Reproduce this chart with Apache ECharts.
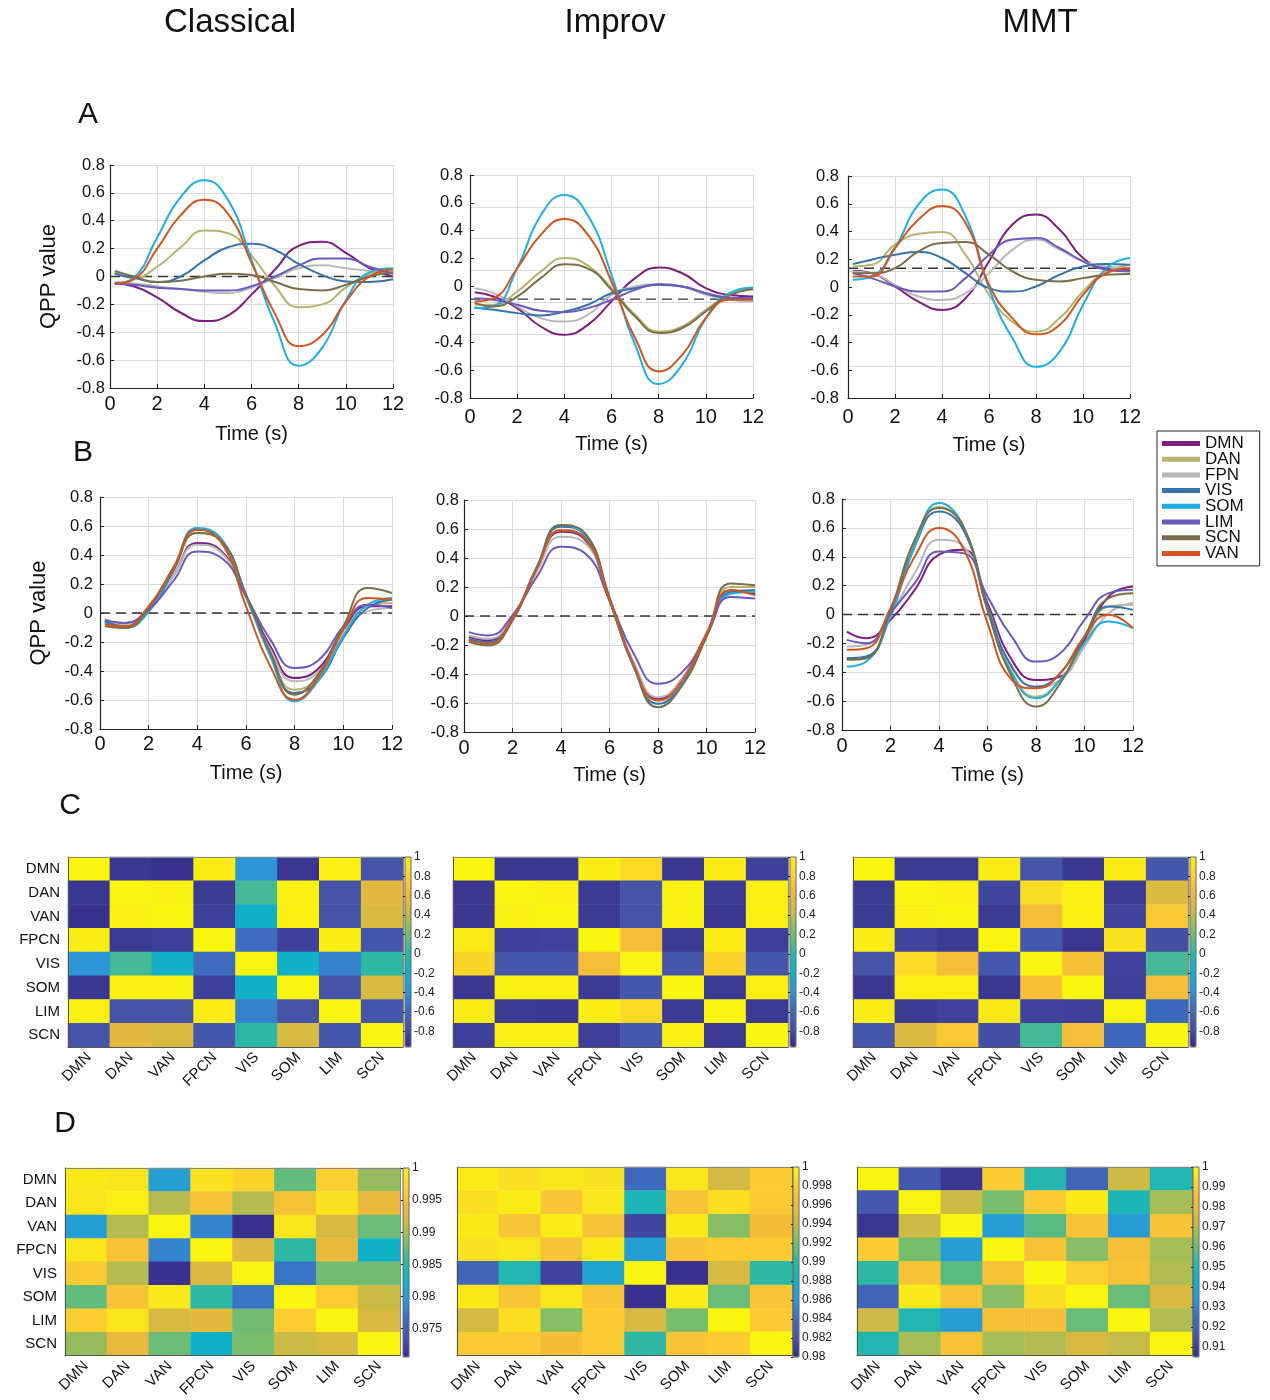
<!DOCTYPE html>
<html><head><meta charset="utf-8">
<script src="https://cdn.jsdelivr.net/npm/echarts@6/dist/echarts.min.js"></script>
<style>html,body{margin:0;padding:0;background:#fff}#c{width:1270px;height:1400px}</style>
</head><body><div id="c"></div>
<script>
// ---------------- DATA ----------------
const networks = ['DMN','DAN','FPN','VIS','SOM','LIM','SCN','VAN'];
const conditions = ['Classical','Improv','MMT'];
const panelLetters = ['A','B','C','D'];
const times = [0.2,1,2,3,4,5,6,7,8,9,10,11,12];
const qppTicks = [-0.8,-0.6,-0.4,-0.2,0,0.2,0.4,0.6,0.8];
const timeTicks = [0,2,4,6,8,10,12];

// rows follow `networks` order
const qppA_Classical = [
  [-0.05,-0.07,-0.15,-0.26,-0.32,-0.28,-0.13,0.05,0.22,0.25,0.17,0.06,0.0],
  [0.03,-0.01,0.07,0.21,0.33,0.31,0.15,-0.07,-0.22,-0.2,-0.08,0.02,0.05],
  [-0.04,-0.05,-0.07,-0.09,-0.11,-0.12,-0.08,-0.01,0.06,0.08,0.06,0.04,0.03],
  [0.02,-0.01,-0.04,0.0,0.115,0.21,0.235,0.19,0.09,0.01,-0.035,-0.04,-0.02],
  [-0.05,-0.01,0.28,0.57,0.69,0.55,0.12,-0.34,-0.64,-0.51,-0.17,0.03,0.06],
  [-0.05,-0.06,-0.08,-0.09,-0.1,-0.1,-0.07,0.0,0.08,0.13,0.13,0.07,0.02],
  [0.04,0.0,-0.04,-0.03,0.0,0.02,0.01,-0.04,-0.09,-0.1,-0.06,0.0,0.03],
  [-0.05,-0.02,0.2,0.44,0.55,0.45,0.1,-0.27,-0.5,-0.42,-0.18,0.0,0.05]
];
const qppA_Improv = [
  [-0.041,-0.072,-0.155,-0.287,-0.346,-0.275,-0.107,0.06,0.136,0.095,-0.012,-0.06,-0.072],
  [-0.131,-0.131,-0.036,0.107,0.205,0.15,-0.012,-0.203,-0.322,-0.287,-0.167,-0.06,-0.017],
  [-0.012,-0.048,-0.143,-0.227,-0.251,-0.203,-0.06,0.0,0.017,0.0,-0.06,-0.095,-0.107],
  [-0.15,-0.167,-0.191,-0.208,-0.179,-0.131,-0.048,-0.012,0.012,0.0,-0.048,-0.084,-0.084],
  [-0.155,-0.14,0.13,0.51,0.657,0.51,0.084,-0.418,-0.70,-0.56,-0.227,-0.048,-0.007],
  [-0.084,-0.095,-0.131,-0.174,-0.184,-0.155,-0.095,-0.024,0.017,0.0,-0.048,-0.079,-0.084],
  [-0.119,-0.143,-0.072,0.06,0.16,0.128,-0.024,-0.215,-0.334,-0.298,-0.179,-0.064,-0.019],
  [-0.107,-0.084,0.131,0.37,0.485,0.37,0.036,-0.37,-0.609,-0.49,-0.227,-0.095,-0.095]
];
const qppA_MMT = [
  [0.117,0.1,0.004,-0.105,-0.165,-0.081,0.185,0.45,0.522,0.414,0.209,0.136,0.124],
  [0.148,0.16,0.305,0.383,0.397,0.233,-0.057,-0.25,-0.322,-0.226,-0.033,0.112,0.156],
  [0.112,0.1,0.016,-0.069,-0.093,-0.045,0.1,0.269,0.342,0.269,0.185,0.148,0.136],
  [0.165,0.197,0.233,0.252,0.209,0.1,-0.008,-0.033,0.004,0.088,0.148,0.165,0.16],
  [0.052,0.076,0.281,0.595,0.703,0.51,-0.008,-0.37,-0.575,-0.467,-0.129,0.136,0.209],
  [0.1,0.064,0.004,-0.033,-0.033,0.064,0.233,0.342,0.354,0.281,0.185,0.124,0.112],
  [0.1,0.1,0.136,0.257,0.317,0.325,0.233,0.112,0.052,0.04,0.064,0.088,0.093],
  [0.076,0.076,0.281,0.486,0.583,0.462,0.016,-0.226,-0.341,-0.274,-0.057,0.1,0.136]
];
const qppB_Classical = [
  [-0.057,-0.069,0.034,0.253,0.483,0.425,0.115,-0.23,-0.448,-0.379,-0.115,0.046,0.046],
  [-0.069,-0.092,0.023,0.287,0.552,0.483,0.115,-0.276,-0.529,-0.437,-0.149,0.046,0.069],
  [-0.057,-0.08,0.023,0.253,0.471,0.414,0.103,-0.253,-0.471,-0.402,-0.149,0.011,0.034],
  [-0.057,-0.092,0.011,0.287,0.575,0.506,0.126,-0.276,-0.552,-0.46,-0.172,0.034,0.092],
  [-0.07,-0.103,0.01,0.3,0.586,0.506,0.115,-0.3,-0.609,-0.46,-0.161,0.057,0.103],
  [-0.046,-0.069,0.023,0.218,0.425,0.379,0.115,-0.184,-0.379,-0.322,-0.092,0.057,0.034],
  [-0.092,-0.103,0.034,0.299,0.552,0.494,0.126,-0.276,-0.563,-0.414,-0.092,0.172,0.138],
  [-0.08,-0.092,0.046,0.31,0.575,0.483,0.046,-0.368,-0.598,-0.437,-0.115,0.103,0.092]
];
const qppB_Improv = [
  [-0.145,-0.168,-0.007,0.316,0.581,0.523,0.108,-0.33,-0.571,-0.433,-0.122,0.177,0.154],
  [-0.157,-0.187,-0.025,0.316,0.592,0.535,0.12,-0.341,-0.606,-0.456,-0.122,0.2,0.2],
  [-0.134,-0.157,-0.007,0.304,0.546,0.5,0.108,-0.318,-0.56,-0.433,-0.134,0.166,0.177],
  [-0.16,-0.18,-0.018,0.339,0.615,0.558,0.12,-0.353,-0.606,-0.468,-0.134,0.166,0.177],
  [-0.168,-0.191,-0.03,0.339,0.627,0.546,0.108,-0.353,-0.629,-0.468,-0.122,0.154,0.166],
  [-0.111,-0.134,0.005,0.27,0.477,0.431,0.108,-0.26,-0.468,-0.387,-0.134,0.131,0.12],
  [-0.18,-0.203,-0.03,0.327,0.627,0.569,0.131,-0.341,-0.629,-0.479,-0.145,0.224,0.212],
  [-0.168,-0.191,-0.018,0.327,0.592,0.535,0.108,-0.341,-0.583,-0.445,-0.122,0.177,0.143]
];
const qppB_MMT = [
  [-0.118,-0.164,-0.037,0.171,0.414,0.449,0.079,-0.314,-0.453,-0.43,-0.176,0.125,0.194],
  [-0.303,-0.291,0.021,0.495,0.745,0.61,0.044,-0.395,-0.569,-0.453,-0.199,0.055,0.067],
  [-0.222,-0.21,-0.002,0.287,0.518,0.472,0.055,-0.361,-0.5,-0.453,-0.222,0.009,0.079],
  [-0.303,-0.291,0.009,0.472,0.714,0.587,0.055,-0.361,-0.5,-0.407,-0.153,0.055,0.032],
  [-0.361,-0.326,-0.014,0.472,0.772,0.61,0.032,-0.407,-0.58,-0.453,-0.199,-0.049,-0.095],
  [-0.176,-0.199,0.009,0.217,0.437,0.425,0.125,-0.153,-0.326,-0.268,-0.037,0.148,0.171],
  [-0.314,-0.303,0.032,0.518,0.738,0.61,0.032,-0.43,-0.638,-0.476,-0.153,0.113,0.148],
  [-0.245,-0.234,0.044,0.402,0.599,0.46,-0.06,-0.453,-0.511,-0.407,-0.153,-0.002,-0.095]
];
// level of the dashed reference line in each panel (as drawn in the source figure)
const zeroLevelA = [0, -0.09, 0.135];
const zeroLevelB = [0, 0, 0];

const matNets = ['DMN','DAN','VAN','FPCN','VIS','SOM','LIM','SCN'];
const corrC_Classical = [
  [1,-0.9,-0.92,0.96,-0.37,-0.9,0.97,-0.76],
  [-0.9,1,0.98,-0.88,0.08,0.98,-0.76,0.55],
  [-0.92,0.98,1,-0.86,-0.18,0.98,-0.76,0.49],
  [0.96,-0.88,-0.86,1,-0.57,-0.85,0.96,-0.74],
  [-0.37,0.08,-0.18,-0.57,1,-0.18,-0.47,0.02],
  [-0.9,0.98,0.98,-0.85,-0.18,1,-0.76,0.49],
  [0.97,-0.76,-0.76,0.96,-0.47,-0.76,1,-0.74],
  [-0.76,0.55,0.49,-0.74,0.02,0.49,-0.74,1]
];
const corrC_Improv = [
  [1,-0.9,-0.9,0.96,0.86,-0.9,0.96,-0.86],
  [-0.9,1,0.98,-0.88,-0.76,0.98,-0.88,0.97],
  [-0.9,0.98,1,-0.88,-0.76,0.98,-0.9,0.97],
  [0.95,-0.86,-0.84,1,0.65,-0.88,0.96,-0.86],
  [0.84,-0.74,-0.74,0.65,1,-0.74,0.82,-0.74],
  [-0.9,0.98,0.98,-0.88,-0.74,1,-0.88,0.97],
  [0.96,-0.88,-0.9,0.96,0.86,-0.88,1,-0.88],
  [-0.86,0.97,0.97,-0.86,-0.72,0.97,-0.88,1]
];
const corrC_MMT = [
  [1,-0.88,-0.88,0.96,-0.76,-0.9,0.96,-0.74],
  [-0.88,1,0.97,-0.82,0.88,0.97,-0.88,0.52],
  [-0.88,0.97,1,-0.88,0.65,0.97,-0.84,0.75],
  [0.96,-0.82,-0.88,1,-0.72,-0.9,0.9,-0.78],
  [-0.76,0.86,0.65,-0.72,1,0.68,-0.84,0.08],
  [-0.9,0.97,0.97,-0.9,0.68,1,-0.86,0.65],
  [0.96,-0.88,-0.84,0.94,-0.84,-0.86,1,-0.6],
  [-0.74,0.52,0.75,-0.78,0.08,0.65,-0.6,1]
];
const corrD_Classical = [
  [0.9991,0.9988,0.9803,0.9985,0.9974,0.9874,0.9971,0.9894],
  [0.9988,0.9995,0.9906,0.9953,0.9906,0.9953,0.9985,0.9935],
  [0.9803,0.9906,1,0.9782,0.9712,0.9988,0.9924,0.9877],
  [0.9988,0.9953,0.9782,1,0.9929,0.9853,0.9935,0.9824],
  [0.9965,0.9906,0.9712,0.9929,1,0.9771,0.9879,0.9879],
  [0.9874,0.9953,0.999,0.9853,0.9771,1,0.9968,0.9915],
  [0.9968,0.9988,0.9924,0.9932,0.9879,0.9968,1,0.9924],
  [0.9894,0.9935,0.9877,0.9824,0.9882,0.9915,0.9924,1]
];
const corrD_Improv = [
  [0.9994,0.9988,0.9992,0.999,0.9838,0.9992,0.9946,0.9976],
  [0.9988,0.9995,0.9972,0.9992,0.989,0.9968,0.9988,0.9976],
  [0.9993,0.9972,0.9995,0.9968,0.9814,0.9993,0.9924,0.9964],
  [0.999,0.9992,0.997,0.9993,0.9866,0.997,0.9976,0.9976],
  [0.9834,0.9892,0.9812,0.987,1,0.9804,0.9948,0.99],
  [0.9993,0.9972,0.9992,0.9972,0.9804,0.9995,0.9916,0.9972],
  [0.9946,0.9988,0.9924,0.9976,0.9948,0.992,1,0.9976],
  [0.9976,0.9976,0.9964,0.9976,0.99,0.997,0.9976,1]
];
const corrD_MMT = [
  [1,0.9164,0.9079,0.9886,0.9497,0.9212,0.9734,0.9487],
  [0.9164,1,0.9734,0.962,0.9886,0.997,0.9478,0.9677],
  [0.9079,0.9734,1,0.9354,0.9582,0.9848,0.9354,0.9848],
  [0.9886,0.962,0.9354,1,0.9848,0.9639,0.9839,0.9677],
  [0.9525,0.9848,0.9582,0.9848,1,0.9905,0.9848,0.9687],
  [0.9212,0.997,0.9848,0.9639,0.994,1,0.9601,0.9753],
  [0.9734,0.9487,0.9354,0.9839,0.9839,0.9601,1,0.9687],
  [0.9487,0.9677,0.9848,0.9677,0.969,0.9753,0.9715,1]
];
const cbRangeC = [-0.96, 1];
const cbTicksC = [-0.8,-0.6,-0.4,-0.2,0,0.2,0.4,0.6,0.8,1];
const cbRangeD_Classical = [0.9706, 1];
const cbTicksD_Classical = [0.975,0.98,0.985,0.99,0.995,1];
const cbRangeD_Improv = [0.98, 1];
const cbTicksD_Improv = [0.98,0.982,0.984,0.986,0.988,0.99,0.992,0.994,0.996,0.998,1];
const cbRangeD_MMT = [0.905, 1];
const cbTicksD_MMT = [0.91,0.92,0.93,0.94,0.95,0.96,0.97,0.98,0.99,1];

// ---------------- STYLE ----------------
const FONT = 'Liberation Sans, Arial, sans-serif';
const netColors = ['#7e1e80','#b5b46e','#b8b8b8','#3673ac','#1eaee6','#6a5abd','#7a6e4a','#d2541e'];
const parula = ['#352a87','#4653a8','#3d6cc0','#2e96d8','#10b2c8','#2cb8a4','#78bd6c','#c4bb48','#f2b93a','#fccf30','#f9f50e'];

const grid = [], xAxis = [], yAxis = [], series = [], visualMap = [], graphic = [];

function linePanel(rect, data, zero, o) {
  const gi = grid.length;
  grid.push({left: rect[0], top: rect[1], width: rect[2], height: rect[3]});
  xAxis.push({gridIndex: gi, type: 'value', min: 0, max: 12, interval: 2,
    axisLine: {show: true, onZero: false, lineStyle: {color: '#222', width: 1.2}},
    axisTick: {inside: true, length: 4, lineStyle: {color: '#222'}},
    axisLabel: {fontSize: 20, color: '#111', margin: o.xm, fontFamily: FONT},
    splitLine: {show: true, lineStyle: {color: '#dadada', width: 1}},
    name: 'Time (s)', nameLocation: 'middle', nameGap: o.ng,
    nameTextStyle: {fontSize: 20, color: '#111', fontFamily: FONT}});
  const yi = yAxis.length;
  yAxis.push({gridIndex: gi, type: 'value', min: -0.8, max: 0.8, interval: 0.2,
    axisLine: {show: true, onZero: false, lineStyle: {color: '#222', width: 1.2}},
    axisTick: {inside: true, length: 4, lineStyle: {color: '#222'}},
    axisLabel: {fontSize: 16.5, color: '#111', margin: o.ym, fontFamily: FONT},
    splitLine: {show: !o.alt, lineStyle: {color: '#dadada', width: 1}},
    name: o.qpp ? 'QPP value' : '', nameLocation: 'middle', nameGap: 50,
    nameTextStyle: {fontSize: 22, color: '#111', fontFamily: FONT}});
  if (o.alt) {
    yAxis.push({gridIndex: gi, type: 'value', min: 0, max: 7, interval: 1, position: 'right',
      axisLine: {show: false}, axisTick: {show: false}, axisLabel: {show: false},
      splitLine: {show: true, lineStyle: {color: '#dadada', width: 1}}});
  }
  const xi = xAxis.length - 1;
  series.push({type: 'line', xAxisIndex: xi, yAxisIndex: yi, silent: true, showSymbol: false,
    data: [[0, zero], [12, zero]], lineStyle: {color: '#333', width: 1.3, type: [10, 6]}, z: 1});
  networks.forEach((n, i) => {
    series.push({type: 'line', name: n, xAxisIndex: xi, yAxisIndex: yi, smooth: 0.5,
      showSymbol: false, silent: true, color: netColors[i],
      lineStyle: {width: 2, color: netColors[i]},
      data: times.map((t, k) => [t, data[i][k]]), z: 2});
  });
}

function heatPanel(rect, mat, range, ticks, cbLeft, showY) {
  const gi = grid.length;
  grid.push({left: rect[0], top: rect[1], width: rect[2], height: rect[3]});
  const xi = xAxis.length, yi = yAxis.length;
  xAxis.push({gridIndex: gi, type: 'category', data: matNets, z: 5,
    axisLine: {show: true, lineStyle: {color: '#555'}},
    axisTick: {inside: true, alignWithLabel: true, length: 4, lineStyle: {color: '#222'}},
    axisLabel: {rotate: 45, fontSize: 15, color: '#111', margin: 8, fontFamily: FONT, interval: 0},
    splitLine: {show: false}});
  yAxis.push({gridIndex: gi, type: 'category', data: matNets, inverse: true, z: 5,
    axisLine: {show: true, lineStyle: {color: '#555'}},
    axisTick: {inside: true, alignWithLabel: true, length: 4, lineStyle: {color: '#222'}},
    axisLabel: {show: showY, fontSize: 15, color: '#111', margin: 8, fontFamily: FONT, interval: 0},
    splitLine: {show: false}});
  xAxis.push({gridIndex: gi, type: 'value', position: 'top', min: 0, max: 1, z: 5,
    axisLine: {show: true, onZero: false, lineStyle: {color: '#888'}}, axisTick: {show: false},
    axisLabel: {show: false}, splitLine: {show: false}});
  yAxis.push({gridIndex: gi, type: 'value', position: 'right', min: 0, max: 1, z: 5,
    axisLine: {show: true, onZero: false, lineStyle: {color: '#888'}}, axisTick: {show: false},
    axisLabel: {show: false}, splitLine: {show: false}});
  const si = series.length;
  const d = [];
  mat.forEach((row, r) => row.forEach((v, c) => d.push([c, r, v])));
  series.push({type: 'heatmap', xAxisIndex: xi, yAxisIndex: yi, data: d, silent: true,
    itemStyle: {borderWidth: 0}, emphasis: {disabled: true}});
  visualMap.push({type: 'continuous', min: range[0], max: range[1], seriesIndex: si, dimension: 2,
    inRange: {color: parula}, left: cbLeft, top: rect[1], itemWidth: 6, itemHeight: rect[3],
    orient: 'vertical', calculable: false, padding: 0, hoverLink: false, show: true});
  // colorbar tick axis
  const cg = grid.length;
  grid.push({left: cbLeft, top: rect[1], width: 6, height: rect[3], show: true,
    borderColor: '#666', borderWidth: 1, backgroundColor: 'transparent', z: 10});
  xAxis.push({gridIndex: cg, type: 'value', show: false});
  yAxis.push({gridIndex: cg, type: 'value', min: range[0], max: range[1], position: 'right', z: 10,
    axisLine: {show: false},
    axisTick: {show: true, inside: true, length: 2, customValues: ticks, lineStyle: {color: '#222'}},
    axisLabel: {customValues: ticks, fontSize: 12, color: '#222', margin: 3, fontFamily: FONT,
      formatter: v => String(+(+v).toFixed(4))},
    splitLine: {show: false}});
}

// ---- line panels ----
linePanel([110,165,283,223], qppA_Classical, zeroLevelA[0], {xm: 6, ym: 5, ng: 36, qpp: true});
linePanel([470,175,283,223], qppA_Improv, zeroLevelA[1], {xm: 9, ym: 7, ng: 36, alt: true});
linePanel([848,176,282,222], qppA_MMT, zeroLevelA[2], {xm: 9, ym: 9, ng: 37, alt: true});
linePanel([100,497,292,232], qppB_Classical, zeroLevelB[0], {xm: 5, ym: 7, ng: 34, qpp: true});
linePanel([464,500,291,232], qppB_Improv, zeroLevelB[1], {xm: 6, ym: 5, ng: 33});
linePanel([842,499,291,231], qppB_MMT, zeroLevelB[2], {xm: 6, ym: 7, ng: 35});

// ---- heatmaps ----
heatPanel([68,857,335,190], corrC_Classical, cbRangeC, cbTicksC, 405, true);
heatPanel([453,857,335,190], corrC_Improv, cbRangeC, cbTicksC, 790, false);
heatPanel([853,857,335,190], corrC_MMT, cbRangeC, cbTicksC, 1190, false);
heatPanel([65,1168,335,189], corrD_Classical, cbRangeD_Classical, cbTicksD_Classical, 403, true);
heatPanel([457,1167,335,190], corrD_Improv, cbRangeD_Improv, cbTicksD_Improv, 793, false);
heatPanel([857,1167,335,190], corrD_MMT, cbRangeD_MMT, cbTicksD_MMT, 1193, false);

// ---- text ----
[[230,23],[615,23],[1040,23]].forEach((p, i) => graphic.push({type: 'text', x: p[0], y: p[1], silent: true,
  style: {text: conditions[i], fontSize: 33, fontFamily: FONT, fill: '#111', align: 'center', verticalAlign: 'middle'}}));
[[88,115],[83,453],[70,806],[65,1124]].forEach((p, i) => graphic.push({type: 'text', x: p[0], y: p[1], silent: true,
  style: {text: panelLetters[i], fontSize: 30, fontFamily: FONT, fill: '#111', align: 'center', verticalAlign: 'middle'}}));

const chart = echarts.init(document.getElementById('c'), null, {renderer: 'canvas'});
chart.setOption({
  backgroundColor: '#fff',
  animation: false,
  textStyle: {fontFamily: FONT},
  grid, xAxis, yAxis, series, visualMap, graphic,
  legend: {data: networks, orient: 'vertical', left: 1157, top: 431, itemWidth: 38, itemHeight: 5,
    itemGap: -1.3, icon: 'rect', selectedMode: false,
    textStyle: {fontSize: 17, color: '#111', fontFamily: FONT},
    borderColor: '#222', borderWidth: 1, padding: [4, 16, 4, 5]}
});
</script></body></html>
